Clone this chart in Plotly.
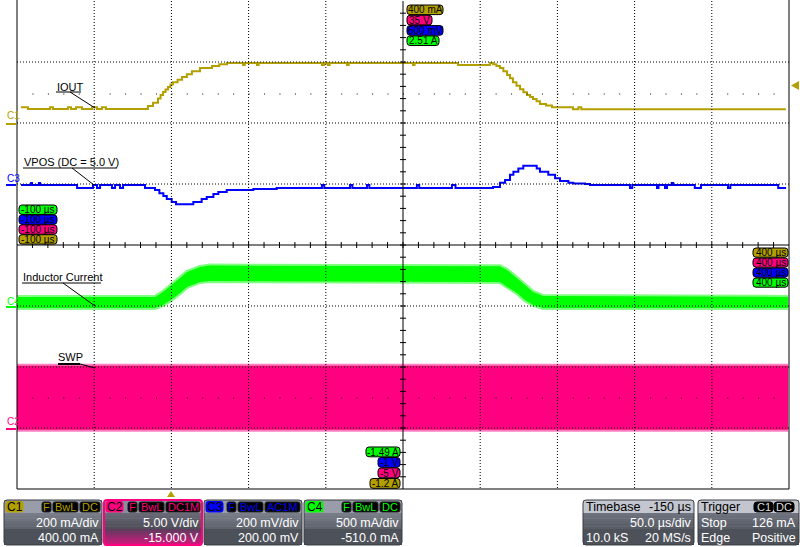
import plotly.graph_objects as go

# C1 : IOUT  (time in us, current in mA)
IOUT_T = [-97.5, -92.9, -78.6, -76.7, -67.0, -65.0, -61.8, -57.9, -51.4, -48.2, -45.0, -42.4,
          -15.2, -11.9, -8.7, -7.0, -5.4, -3.8, -2.2, -0.6, 1.0, 4.0, 6.9, 10.0, 13.3, 18.5, 26.3, 31.0, 36.0,
          46.4, 47.5, 55.4, 56.5, 97.5, 98.8, 101.4, 102.5, 113.7, 114.8, 156.5, 157.5, 185.6, 206.3,
          208.3, 210.5, 212.8, 215.0, 217.4, 219.3, 221.2, 223.5, 225.8, 228.0, 230.3, 232.3, 234.2, 236.5,
          238.7, 242.6, 246.5, 260.1, 263.6, 265.5, 398.0]
IOUT_MA = [52, 46, 52, 46, 52, 46, 52, 46, 52, 46, 52, 46,
           56, 66, 80, 92, 102, 110, 118, 126, 134, 142, 151, 160, 170, 180, 187, 193, 197,
           190, 197, 190, 197, 190, 197, 190, 197, 190, 197, 190, 197, 190, 197,
           193, 187, 180, 170, 157, 147, 134, 122, 111, 101, 92, 85, 79, 71,
           62, 57, 52, 45, 52, 45, 45]

# C3 : VPOS ripple (AC coupled, mV)
VPOS_T = [-97.4, -90.9, -90.3, -85.8, -85.1, -61.1, -50.8, -48.2, -46.2, -38.5, -36.5, -33.3, -31.3, -17.1,
          -10.6, -7.8, -5.2, -3.0, 0.2, 3.0, 14.2, 19.6, 22.9, 27.2, 30.4, 35.8, 53.1, 68.2,
          97.5, 99.0, 115.7, 117.2, 126.7, 128.2, 159.0, 160.5, 181.7, 184.0,
          208.3, 212.8, 216.1, 219.3, 221.5, 224.7, 227.9, 236.6, 238.7, 244.1, 248.5, 251.7, 257.1, 260.3, 267.9, 271.1,
          297.0, 298.5, 314.5, 315.5, 319.7, 321.0, 324.0, 325.0, 339.0, 343.0, 360.5, 362.0, 393.0, 398.1]
VPOS_MV = [-3, 3, -3, 3, -3, -13, -3, -13, -3, -13, -3, -13, -3, -13,
           -20, -30, -39, -49, -59, -66, -59, -49, -43, -33, -26, -20, -16, -13,
           -3, -13, -3, -13, -3, -13, -3, -13, -3, -13,
           -10, 4, 13, 30, 40, 51, 60, 51, 40, 30, 19, 10, 4, 2, 0, -3,
           -13, -3, -13, -3, -13, -3, 3, -3, -13, -3, -13, -3, -13, -13]

# C4 : inductor current envelope (A)
IND_T = [-100, -10.6, -5.4, -0.3, 5.6, 10.1, 18.5, 25.0, 212.8, 217.4, 223.8, 229.0, 234.2, 240.7, 399.4]
IND_HI_A = [0.084, 0.084, 0.125, 0.182, 0.240, 0.289, 0.330, 0.342, 0.335, 0.305, 0.240, 0.182, 0.125, 0.092, 0.084]
IND_LO_A = [-0.006, -0.006, 0.018, 0.059, 0.117, 0.166, 0.207, 0.215, 0.207, 0.166, 0.117, 0.059, 0.018, -0.006, -0.006]

# C2 : SWP switching envelope (V)
SWP_T = [-100, 399.4]
SWP_HI_V = [5.1, 5.1]
SWP_LO_V = [-0.15, -0.15]

# labels / readouts
CH_NAMES = ["C1", "C2", "C3", "C4"]
CH_VDIV = ["200 mA/div", "5.00 V/div", "200 mV/div", "500 mA/div"]
CH_OFFSET = ["400.00 mA", "-15.000 V", "200.00 mV", "-510.0 mA"]
CH_COUPLING = ["DC", "DC1M", "AC1M", "DC"]
TOP_TAGS = ["400 mA", "35 V", "600 mV", "2.51 A"]        # C1, C2, C3, C4
BOTTOM_TAGS = ["-1.49 A", "-1 V", "-5 V", "-1.2 A"]      # C4, C3, C2, C1
LEFT_TAG = "-100 µs"
RIGHT_TAG = "400 µs"
TRACE_LABELS = ["IOUT", "VPOS (DC = 5.0 V)", "Inductor Current", "SWP"]

# ---------------- styling helpers ----------------
PL, PR, PT, PB = 17, 789, 1, 489
OLIVE = "#B3A000"
PINK = "#FF0080"
BLUE = "#0000FF"
GREEN = "#00FF00"
FONT = "Liberation Sans, Arial, sans-serif"


def px(x):
    return (x - PL) / (PR - PL)


def py(y):
    return (PB - y) / (PB - PT)


shapes = []
annotations = []


def line(x0, y0, x1, y1, color="black", width=1, dash=None):
    ln = dict(color=color, width=width)
    if dash:
        ln["dash"] = dash
    shapes.append(dict(type="line", xref="paper", yref="paper", x0=px(x0), y0=py(y0),
                       x1=px(x1), y1=py(y1), line=ln, layer="above"))


def rect(x0, y0, x1, y1, fill):
    shapes.append(dict(type="rect", xref="paper", yref="paper", x0=px(x0), y0=py(y0),
                       x1=px(x1), y1=py(y1), fillcolor=fill, line=dict(width=0), layer="above"))


def rrect(x0, y0, x1, y1, r, fill, lc="black", lw=1):
    X = lambda v: f"{px(v):.6f}"
    Y = lambda v: f"{py(v):.6f}"
    p = (f"M{X(x0 + r)},{Y(y0)} L{X(x1 - r)},{Y(y0)} Q{X(x1)},{Y(y0)} {X(x1)},{Y(y0 + r)} "
         f"L{X(x1)},{Y(y1 - r)} Q{X(x1)},{Y(y1)} {X(x1 - r)},{Y(y1)} L{X(x0 + r)},{Y(y1)} "
         f"Q{X(x0)},{Y(y1)} {X(x0)},{Y(y1 - r)} L{X(x0)},{Y(y0 + r)} Q{X(x0)},{Y(y0)} {X(x0 + r)},{Y(y0)} Z")
    shapes.append(dict(type="path", xref="paper", yref="paper", path=p, fillcolor=fill,
                       line=dict(color=lc, width=lw), layer="above"))


def poly(pts, fill):
    p = "M" + " L".join(f"{px(a):.6f},{py(b):.6f}" for a, b in pts) + " Z"
    shapes.append(dict(type="path", xref="paper", yref="paper", path=p, fillcolor=fill,
                       line=dict(width=0), layer="above"))


def text(x, y, s, color="black", size=11, xanchor="left"):
    annotations.append(dict(xref="paper", yref="paper", x=px(x), y=py(y), text=s, showarrow=False,
                            xanchor=xanchor, yanchor="middle", borderpad=0,
                            font=dict(family=FONT, size=size, color=color)))


def mix(c0, c1, f):
    a = [int(c0[i:i + 2], 16) for i in (1, 3, 5)]
    b = [int(c1[i:i + 2], 16) for i in (1, 3, 5)]
    return "#" + "".join(f"{round(a[k] + (b[k] - a[k]) * f):02x}" for k in range(3))


def vgrad(x0, x1, y0, y1, c0, c1, n):
    h = (y1 - y0) / n
    for i in range(n):
        rect(x0, y0 + i * h, x1, y0 + (i + 1) * h + 0.3, mix(c0, c1, (i + 0.5) / n))


# ---------------- figure & traces ----------------
fig = go.Figure()
common = dict(mode="lines", showlegend=False, hoverinfo="skip")

fig.add_trace(go.Scatter(x=SWP_T, y=SWP_LO_V, yaxis="y2", line=dict(width=0, color=PINK), **common))
fig.add_trace(go.Scatter(x=SWP_T, y=SWP_HI_V, yaxis="y2", fill="tonexty", fillcolor=PINK,
                         line=dict(width=0, color=PINK), **common))
for arr in (SWP_HI_V, SWP_LO_V):
    fig.add_trace(go.Scatter(x=SWP_T, y=arr, yaxis="y2", line=dict(width=4, color="rgba(255,0,128,0.5)"), **common))

fig.add_trace(go.Scatter(x=IND_T, y=IND_LO_A, yaxis="y4", line=dict(width=0, color=GREEN), **common))
fig.add_trace(go.Scatter(x=IND_T, y=IND_HI_A, yaxis="y4", fill="tonexty", fillcolor=GREEN,
                         line=dict(width=0, color=GREEN), **common))
for arr in (IND_HI_A, IND_LO_A):
    fig.add_trace(go.Scatter(x=IND_T, y=arr, yaxis="y4", line=dict(width=4, color="rgba(0,255,0,0.5)"), **common))

fig.add_trace(go.Scatter(x=VPOS_T, y=VPOS_MV, yaxis="y3", line=dict(width=2, color=BLUE, shape="hv"), **common))
fig.add_trace(go.Scatter(x=IOUT_T, y=IOUT_MA, yaxis="y", line=dict(width=2, color=OLIVE, shape="hv"), **common))

# ---------------- graticule ----------------
DX = (PR - PL) / 10
DY = (PB - PT) / 8
for k in range(1, 10):
    x = PL + k * DX
    if k == 5:
        line(x, PT, x, PB, width=1)
    else:
        line(x, PT, x, PB, dash="1px,2px")
for k in range(1, 8):
    y = PB - k * DY
    if k == 4:
        line(PL, y, PR, y, width=1)
    else:
        line(PL, y, PR, y, dash="1px,2px")
# center-line ticks
cx = PL + 5 * DX
cy = PB - 4 * DY
for k in range(1, 40):
    y = PB - k * DY / 5
    line(cx - 3, y, cx + 3, y)
for k in range(1, 50):
    x = PL + k * DX / 5
    line(x, cy - 3, x, cy + 3)
# sparse dotted rows
for y in (94, 398):
    line(PL + DX / 5, y, PR, y, dash="1px,14.44px")
# frame
line(PL, 0, PL, PB)
line(PR, 0, PR, PB)
line(PL, PB, PR, PB)

# ---------------- trace labels with leaders ----------------
text(56, 87, TRACE_LABELS[0], size=11)
line(56, 92, 81, 92)
line(70, 92, 95, 108)
text(23, 162, TRACE_LABELS[1], size=11)
line(23, 168, 117, 168)
line(72, 168, 94, 185)
text(22, 277, TRACE_LABELS[2], size=11)
line(22, 283, 101, 283)
line(63, 283, 95, 306)
text(57, 357, TRACE_LABELS[3], size=11)
line(58, 364, 80, 364, width=2)
line(80, 364, 95, 368)

# ---------------- channel reference markers ----------------
for name, col, ty, ly in (("C1", OLIVE, 116, 124), ("C3", BLUE, 178, 185),
                          ("C4", GREEN, 301, 307), ("C2", PINK, 422, 429)):
    text(6, ty, name, color=col, size=10)
    line(6, ly, 16, ly, color=col, width=2)

# trigger markers
poly([(167, 497), (175, 497), (171, 491)], OLIVE)
poly([(791, 85.5), (799, 81), (799, 90)], OLIVE)

# ---------------- edge tags ----------------
TAG_FS = 10
top_cols = [OLIVE, PINK, BLUE, GREEN]
top_x1 = [443, 432, 443, 439]
for i in range(4):
    y0 = 5 + i * 10.3
    rrect(407, y0, top_x1[i], y0 + 9.6, 3, top_cols[i])
    text((407 + top_x1[i]) / 2, y0 + 5.0, TOP_TAGS[i], size=TAG_FS, xanchor="center")

left_cols = [GREEN, BLUE, PINK, OLIVE]
for i in range(4):
    y0 = 205 + i * 9.9
    rrect(19, y0, 57, y0 + 9.4, 3, left_cols[i])
    text(38, y0 + 4.9, LEFT_TAG, size=TAG_FS, xanchor="center")

right_cols = [OLIVE, PINK, BLUE, GREEN]
for i in range(4):
    y0 = 248 + i * 10.0
    rrect(753, y0, 788, y0 + 9.2, 3, right_cols[i])
    text(770.5, y0 + 4.8, RIGHT_TAG, size=TAG_FS, xanchor="center")

bot_cols = [GREEN, BLUE, PINK, OLIVE]
bot_x0 = [366, 378, 378, 370]
for i in range(4):
    y0 = 447 + i * 10.5
    rrect(bot_x0[i], y0, 400, y0 + 9.8, 3, bot_cols[i])
    text((bot_x0[i] + 400) / 2, y0 + 5.1, BOTTOM_TAGS[i], size=TAG_FS, xanchor="center")

# ---------------- bottom readout panels ----------------
TAG_W = {"F": 9, "BwL": 25, "DC": 20, "DC1M": 34, "AC1M": 35}
ch_cols = [OLIVE, PINK, BLUE, GREEN]
for i in range(4):
    x0 = 4 + i * 100
    x1 = x0 + 98
    col = ch_cols[i]
    if i == 1:
        rect(x0, 500, x1, 513, "#8b8e9a")
        vgrad(x0, x1, 513, 529, "#6b6c78", "#4c4b56", 6)
        vgrad(x0, x1, 529, 545, "#5a3c5e", "#d8167f", 8)
        rrect(x0, 500, x1, 545, 3, "rgba(0,0,0,0)", lc=PINK, lw=2)
    else:
        rect(x0, 500, x1, 513, "#989da9")
        vgrad(x0, x1, 513, 529, "#7b808b", "#5b6069", 6)
        rect(x0, 529, x1, 545, "#4d5159")
        rrect(x0, 500, x1, 545, 3, "rgba(0,0,0,0)", lc="#3a3d42", lw=1)
    # channel badge
    rrect(x0 + 2, 501.5, x0 + 19, 512, 2, col, lc=col, lw=1)
    text(x0 + 10.5, 507, CH_NAMES[i], color="black", size=12, xanchor="center")
    # F / BwL / coupling tags
    xr = x1 - 2
    for tg in (CH_COUPLING[i], "BwL", "F"):
        w = TAG_W[tg]
        rrect(xr - w, 502, xr, 512, 2, "black", lc="#222222", lw=1)
        text(xr - w / 2, 507, tg, color=col, size=11, xanchor="center")
        xr -= w + 2
    text(x1 - 2, 523, CH_VDIV[i], color="white", size=12.5, xanchor="right")
    text(x1 - 2, 537.5, CH_OFFSET[i], color="white", size=12.5, xanchor="right")

# timebase / trigger panels
for (x0, x1) in ((583, 694), (698, 799)):
    rect(x0, 500, x1, 513, "#c3c6ce")
    vgrad(x0, x1, 513, 529, "#6f7480", "#565a63", 6)
    rect(x0, 529, x1, 545, "#4d5159")
    rrect(x0, 500, x1, 545, 3, "rgba(0,0,0,0)", lc="#3a3d42", lw=1)

text(585, 507, "Timebase", size=12.5)
text(692, 507, "-150 µs", size=12.5, xanchor="right")
text(692, 523, "50.0 µs/div", color="white", size=12.5, xanchor="right")
text(585, 537.5, "10.0 kS", color="white", size=12.5)
text(692, 537.5, "20 MS/s", color="white", size=12.5, xanchor="right")

text(700, 507, "Trigger", size=12.5)
rrect(754, 502, 773, 512, 3, "black", lc="black")
text(763.5, 507, "C1", color="#dddddd", size=11, xanchor="center")
rrect(774, 502, 794, 512, 3, "black", lc="black")
text(784, 507, "DC", color="#dddddd", size=11, xanchor="center")
text(700, 523, "Stop", color="white", size=12.5)
text(797, 523, "126 mA", color="white", size=12.5, xanchor="right")
text(700, 537.5, "Edge", color="white", size=12.5)
text(797, 537.5, "Positive", color="white", size=12.5, xanchor="right")

# ---------------- layout ----------------
fig.update_layout(
    width=800, height=547,
    margin=dict(l=PL, r=800 - PR, t=PT, b=547 - PB, pad=0, autoexpand=False),
    paper_bgcolor="white", plot_bgcolor="white",
    xaxis=dict(range=[-100, 400], visible=False, fixedrange=True),
    yaxis=dict(range=[-1200, 400], visible=False, fixedrange=True),
    yaxis2=dict(range=[-5, 35], overlaying="y", visible=False, fixedrange=True),
    yaxis3=dict(range=[-1000, 600], overlaying="y", visible=False, fixedrange=True),
    yaxis4=dict(range=[-1.49, 2.51], overlaying="y", visible=False, fixedrange=True),
    shapes=shapes, annotations=annotations, showlegend=False,
)

fig.write_html("out.html", config={"displayModeBar": False, "staticPlot": True},
               post_script="document.body.style.margin='0';document.body.style.overflow='hidden';")
